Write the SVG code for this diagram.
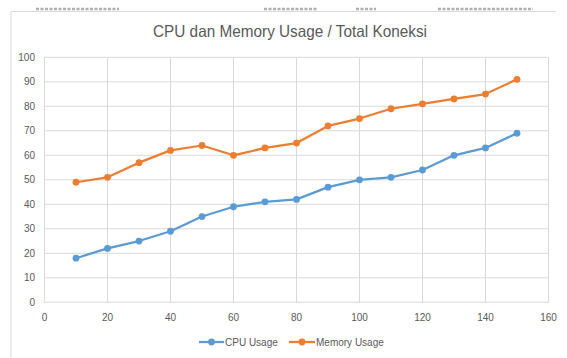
<svg xmlns="http://www.w3.org/2000/svg" width="567" height="358" viewBox="0 0 567 358">
<style>
.bg{fill:#ffffff}
.frame{stroke:#d9d9d9;stroke-width:1;fill:none}
.grid{stroke:#d9d9d9;stroke-width:1;fill:none}
.lbl{font-family:"Liberation Sans",Arial,sans-serif;font-size:10px;fill:#595959}
.ylbl{text-anchor:end}
.xlbl{text-anchor:middle}
.title{font-family:"Liberation Sans",Arial,sans-serif;font-size:16.5px;fill:#595959;text-anchor:middle}
.cpu{stroke:#5b9bd5;stroke-width:2.25;fill:none;stroke-linejoin:round}
.mem{stroke:#ed7d31;stroke-width:2.25;fill:none;stroke-linejoin:round}
.clip{stroke:#6f6f6f;stroke-width:2.5;stroke-dasharray:3 1.5;opacity:0.55}
</style>
<defs>
<marker id="mc" markerUnits="userSpaceOnUse" markerWidth="10" markerHeight="10" refX="5" refY="5"><circle cx="5" cy="5" r="3.4" fill="#5b9bd5"/></marker>
<marker id="mm" markerUnits="userSpaceOnUse" markerWidth="10" markerHeight="10" refX="5" refY="5"><circle cx="5" cy="5" r="3.4" fill="#ed7d31"/></marker>
</defs>
<rect class="bg" x="0" y="0" width="567" height="358"/>
<g id="cropped-header">
<line class="clip" x1="36" y1="9" x2="119" y2="9"/>
<line class="clip" x1="264" y1="9" x2="318" y2="9"/>
<line class="clip" x1="356" y1="9" x2="376" y2="9"/>
<line class="clip" x1="438" y1="9" x2="533" y2="9"/>
</g>
<g id="chart-frame">
<polyline class="frame" points="11,358 11,11.5 556,11.5"/>
</g>
<text id="title" class="title" x="290" y="37" textLength="274" lengthAdjust="spacingAndGlyphs">CPU dan Memory Usage / Total Koneksi</text>
<g id="gridlines">
<path class="grid" d="M44.5 302.3H548.5M44.5 277.8H548.5M44.5 253.3H548.5M44.5 228.8H548.5M44.5 204.3H548.5M44.5 179.8H548.5M44.5 155.3H548.5M44.5 130.8H548.5M44.5 106.3H548.5M44.5 81.8H548.5M44.5 57.3H548.5"/>
<path class="grid" d="M44.5 57.3V302.3M107.5 57.3V302.3M170.5 57.3V302.3M233.5 57.3V302.3M296.5 57.3V302.3M359.5 57.3V302.3M422.5 57.3V302.3M485.5 57.3V302.3M548.5 57.3V302.3"/>
</g>
<g id="y-axis">
<text class="lbl ylbl" x="35" y="305.8">0</text>
<text class="lbl ylbl" x="35" y="281.3">10</text>
<text class="lbl ylbl" x="35" y="256.8">20</text>
<text class="lbl ylbl" x="35" y="232.3">30</text>
<text class="lbl ylbl" x="35" y="207.8">40</text>
<text class="lbl ylbl" x="35" y="183.3">50</text>
<text class="lbl ylbl" x="35" y="158.8">60</text>
<text class="lbl ylbl" x="35" y="134.3">70</text>
<text class="lbl ylbl" x="35" y="109.8">80</text>
<text class="lbl ylbl" x="35" y="85.3">90</text>
<text class="lbl ylbl" x="35" y="60.8">100</text>
</g>
<g id="x-axis">
<text class="lbl xlbl" x="44.5" y="321">0</text>
<text class="lbl xlbl" x="107.5" y="321">20</text>
<text class="lbl xlbl" x="170.5" y="321">40</text>
<text class="lbl xlbl" x="233.5" y="321">60</text>
<text class="lbl xlbl" x="296.5" y="321">80</text>
<text class="lbl xlbl" x="359.5" y="321">100</text>
<text class="lbl xlbl" x="422.5" y="321">120</text>
<text class="lbl xlbl" x="485.5" y="321">140</text>
<text class="lbl xlbl" x="548.5" y="321">160</text>
</g>
<g id="connectors">
<polyline id="series-cpu" class="cpu" marker-start="url(#mc)" marker-mid="url(#mc)" marker-end="url(#mc)" points="76,258.2 107.5,248.4 139,241.05 170.5,231.25 202,216.55 233.5,206.75 265,201.85 296.5,199.4 328,187.15 359.5,179.8 391,177.35 422.5,170 454,155.3 485.5,147.95 517,133.25"/>
<polyline id="series-mem" class="mem" marker-start="url(#mm)" marker-mid="url(#mm)" marker-end="url(#mm)" points="76,182.25 107.5,177.35 139,162.65 170.5,150.4 202,145.5 233.5,155.3 265,147.95 296.5,143.05 328,125.9 359.5,118.55 391,108.75 422.5,103.85 454,98.95 485.5,94.05 517,79.35"/>
</g>
<g id="legend">
<g id="legend-cpu">
<line class="cpu" x1="199" y1="342" x2="224" y2="342" marker-mid="url(#mc)"/>
<circle cx="211.5" cy="342" r="3.4" fill="#5b9bd5"/>
<text class="lbl" x="225" y="345.5">CPU Usage</text>
</g>
<g id="legend-mem">
<line class="mem" x1="289" y1="342" x2="315" y2="342"/>
<circle cx="302" cy="342" r="3.4" fill="#ed7d31"/>
<text class="lbl" x="316" y="345.5">Memory Usage</text>
</g>
</g>
</svg>
